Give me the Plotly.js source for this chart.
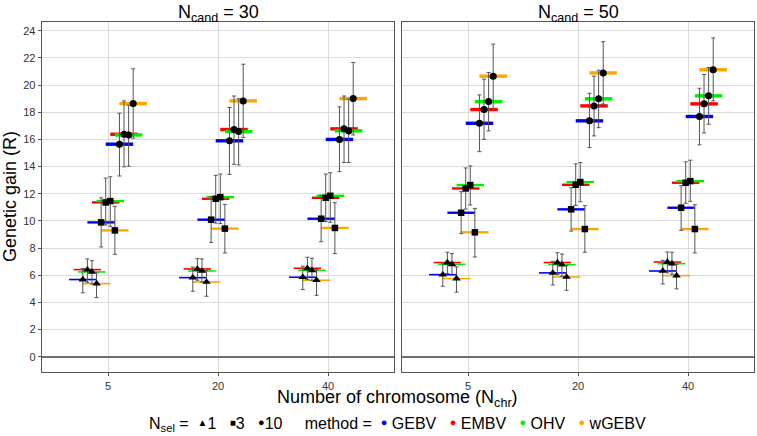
<!DOCTYPE html>
<html>
<head>
<meta charset="utf-8">
<script src="https://cdn.plot.ly/plotly-3.0.1.min.js"></script>
<style>html,body{margin:0;padding:0;background:#fff;}</style>
</head>
<body>
<div id="chart" style="width:757px;height:436px;"></div>
<script>
// ---- categories ----
const chrom = ['5', '20', '40'];
const methods = ['GEBV', 'EMBV', 'OHV', 'wGEBV'];
const methodColors = ['#0000FF', '#FF0000', '#00EE00', '#FFA500'];
const nsel = ['1', '3', '10'];
const ncand = ['30', '50'];
const yTicks = [0, 2, 4, 6, 8, 10, 12, 14, 16, 18, 20, 22, 24];

// ---- N_cand = 30 (rows: GEBV, EMBV, OHV, wGEBV; cols: N_chr 5, 20, 40) ----
const c30_s1_mean  = [[5.68, 5.82, 5.85], [6.41, 6.46, 6.51], [6.24, 6.31, 6.36], [5.38, 5.50, 5.63]];
const c30_s1_lower = [[4.70, 4.82, 4.94], [5.48, 5.63, 5.68], [5.36, 5.50, 5.60], [4.35, 4.45, 4.52]];
const c30_s1_upper = [[6.49, 6.60, 6.66], [7.20, 7.22, 7.32], [7.07, 7.20, 7.25], [6.17, 6.36, 6.41]];

const c30_s3_mean  = [[9.89, 10.09, 10.16], [11.36, 11.63, 11.70], [11.46, 11.75, 11.85], [9.30, 9.43, 9.48]];
const c30_s3_lower = [[8.08, 8.42, 8.47], [9.70, 9.84, 9.95], [9.60, 9.80, 9.90], [7.54, 7.64, 7.59]];
const c30_s3_upper = [[11.70, 11.80, 11.88], [13.15, 13.35, 13.45], [13.25, 13.45, 13.55], [11.07, 11.22, 11.34]];

const c30_s10_mean  = [[15.65, 15.90, 16.00], [16.38, 16.73, 16.78], [16.33, 16.58, 16.63], [18.64, 18.84, 19.01]];
const c30_s10_lower = [[13.31, 13.43, 13.63], [13.98, 14.17, 14.30], [14.02, 14.12, 14.30], [16.09, 16.14, 16.33]];
const c30_s10_upper = [[17.93, 18.35, 18.40], [18.84, 19.20, 19.20], [18.52, 19.00, 18.96], [21.20, 21.54, 21.67]];

// ---- N_cand = 50 ----
const c50_s1_mean  = [[6.04, 6.17, 6.31], [6.93, 6.93, 6.97], [6.80, 6.78, 6.85], [5.75, 5.87, 5.97]];
const c50_s1_lower = [[5.19, 5.28, 5.36], [6.12, 6.04, 6.17], [6.00, 5.92, 6.07], [4.75, 4.89, 4.99]];
const c50_s1_upper = [[6.90, 7.02, 7.10], [7.69, 7.66, 7.71], [7.59, 7.56, 7.69], [6.61, 6.71, 6.80]];

const c50_s3_mean  = [[10.60, 10.85, 10.97], [12.39, 12.66, 12.81], [12.64, 12.86, 12.93], [9.16, 9.40, 9.40]];
const c50_s3_lower = [[9.06, 9.25, 9.30], [10.87, 11.14, 11.30], [11.17, 11.41, 11.44], [7.34, 7.69, 7.64]];
const c50_s3_upper = [[12.15, 12.44, 12.59], [13.90, 14.20, 14.35], [14.05, 14.30, 14.47], [10.92, 11.12, 11.19]];

const c50_s10_mean  = [[17.19, 17.37, 17.69], [18.20, 18.47, 18.62], [18.79, 18.99, 19.21], [20.66, 20.90, 21.13]];
const c50_s10_lower = [[15.10, 15.40, 15.60], [16.01, 16.26, 16.48], [16.63, 16.87, 17.12], [18.23, 18.60, 18.84]];
const c50_s10_upper = [[19.28, 19.40, 19.77], [20.44, 20.66, 20.78], [20.93, 21.10, 21.30], [23.02, 23.20, 23.48]];

// ---- assemble ----
const panelData = [
  {xa: 'x', ya: 'y', sets: [
    [c30_s1_mean, c30_s1_lower, c30_s1_upper],
    [c30_s3_mean, c30_s3_lower, c30_s3_upper],
    [c30_s10_mean, c30_s10_lower, c30_s10_upper]]},
  {xa: 'x2', ya: 'y2', sets: [
    [c50_s1_mean, c50_s1_lower, c50_s1_upper],
    [c50_s3_mean, c50_s3_lower, c50_s3_upper],
    [c50_s10_mean, c50_s10_lower, c50_s10_upper]]}
];
const selSymbols = ['triangle-up', 'square', 'circle'];
const selSizes = [7.5, 6.5, 7];
const barThick = [1.6, 2.4, 3.4];
const dodgeWidth = 0.5;
const nGroups = nsel.length * methods.length;
const catPos = chrom.map((c, i) => i + 1);

const barTraces = [];
const pointTraces = [];
panelData.forEach(p => {
  p.sets.forEach((set, s) => {
    const [meanA, lowA, upA] = set;
    methods.forEach((m, k) => {
      const idx = s * methods.length + k;
      const off = (idx - (nGroups - 1) / 2) * dodgeWidth / nGroups;
      const xs = catPos.map(c => c + off);
      const mean = meanA[k];
      barTraces.push({
        type: 'scatter', mode: 'markers', x: xs, y: mean,
        xaxis: p.xa, yaxis: p.ya, showlegend: false, hoverinfo: 'skip',
        marker: {size: 1, opacity: 0},
        error_x: {type: 'constant', value: 0.125, color: methodColors[k],
                  thickness: barThick[s], width: 0}
      });
      pointTraces.push({
        type: 'scatter', mode: 'markers', x: xs, y: mean,
        xaxis: p.xa, yaxis: p.ya, showlegend: false,
        name: 'N_sel=' + nsel[s] + ' ' + m,
        marker: {symbol: selSymbols[s], size: selSizes[s], color: '#000000'},
        error_y: {type: 'data', symmetric: false,
                  array: mean.map((v, i) => upA[k][i] - v),
                  arrayminus: mean.map((v, i) => v - lowA[k][i]),
                  color: '#555555', thickness: 1, width: 2}
      });
    });
  });
});

const W = 757, H = 436;
const px = v => v / W;
const py = v => 1 - v / H;
const font = 'Liberation Sans, Arial, Helvetica, sans-serif';

const axisCommon = {
  showgrid: true, gridcolor: '#d3d3d3', gridwidth: 0.8,
  showline: true, mirror: true, linecolor: '#555555', linewidth: 1.3,
  tickfont: {family: font, size: 11, color: '#333333'}
};
const xCommon = Object.assign({}, axisCommon, {
  range: [0.4, 3.6], tickmode: 'array', tickvals: catPos, ticktext: chrom,
  zeroline: false, ticks: 'outside', ticklen: 3, tickcolor: '#555555'
});
const yCommon = Object.assign({}, axisCommon, {
  range: [-1.13, 24.65], tickmode: 'array', tickvals: yTicks,
  zeroline: true, zerolinecolor: '#707070', zerolinewidth: 1.8
});

const sym = (ch, col, sz) => '<span style="font-size:' + sz + 'px;color:' + col +
  ';baseline-shift:3px">' + ch + '</span>';
const sp = n => '\u00a0'.repeat(n);
const selSymChars = ['▲', '■', '●'];
const selSymSizes = [10, 10, 11];
const legendText =
  'N<sub>sel</sub> =' + sp(2) +
  nsel.map((s, i) => sym(selSymChars[i], '#000', selSymSizes[i]) + s).join(sp(3)) +
  sp(5) + 'method =' + sp(2) +
  methods.map((m, k) => sym('●', methodColors[k], 11) + sp(1) + m).join(sp(3));

const layout = {
  width: W, height: H,
  margin: {l: 0, r: 0, t: 0, b: 0},
  paper_bgcolor: '#ffffff', plot_bgcolor: '#ffffff',
  showlegend: false,
  font: {family: font, color: '#000000'},
  xaxis: Object.assign({}, xCommon, {domain: [px(42), px(394)], anchor: 'y'}),
  xaxis2: Object.assign({}, xCommon, {domain: [px(402), px(754)], anchor: 'y2'}),
  yaxis: Object.assign({}, yCommon, {domain: [py(372), py(22)], anchor: 'x',
          ticks: 'outside', ticklen: 3, tickcolor: '#555555'}),
  yaxis2: Object.assign({}, yCommon, {domain: [py(372), py(22)], anchor: 'x2',
          matches: 'y', showticklabels: false, ticks: ''}),
  annotations: [
    {text: 'N<sub>cand</sub> = ' + ncand[0], xref: 'x domain', yref: 'paper', x: 0.5, y: 1,
     xanchor: 'center', yanchor: 'top', showarrow: false, font: {family: font, size: 18}},
    {text: 'N<sub>cand</sub> = ' + ncand[1], xref: 'x2 domain', yref: 'paper', x: 0.5, y: 1,
     xanchor: 'center', yanchor: 'top', showarrow: false, font: {family: font, size: 18}},
    {text: 'Number of chromosome (N<sub>chr</sub>)', xref: 'paper', yref: 'paper',
     x: px(398), y: py(385), xanchor: 'center', yanchor: 'top', showarrow: false,
     font: {family: font, size: 18}},
    {text: 'Genetic gain (R)', xref: 'paper', yref: 'paper', textangle: -90,
     x: px(10), y: py(197), xanchor: 'center', yanchor: 'middle', showarrow: false,
     font: {family: font, size: 18}},
    {text: legendText, xref: 'paper', yref: 'paper', x: px(398), y: py(424),
     xanchor: 'center', yanchor: 'middle', showarrow: false,
     font: {family: font, size: 16}}
  ]
};

Plotly.newPlot('chart', barTraces.concat(pointTraces), layout, {staticPlot: true, displayModeBar: false});
</script>
</body>
</html>
